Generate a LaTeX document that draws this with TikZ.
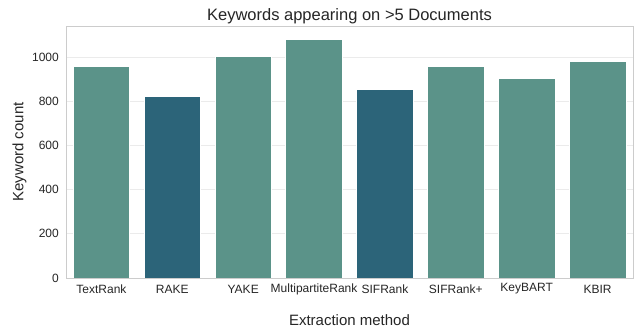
\documentclass[tikz,border=0pt]{standalone}
\usepackage{fontspec}
\setmainfont{Liberation Sans}
\definecolor{barlight}{HTML}{5B9389}
\definecolor{bardark}{HTML}{2C6479}
\definecolor{gridc}{HTML}{EBEBEB}
\definecolor{spinec}{HTML}{CCCCCC}
\definecolor{txt}{HTML}{262626}
\begin{document}
\begin{tikzpicture}[x=1pt,y=-1pt,
  bar/.style={draw=white,line width=0.6pt},
  ticklab/.style={font=\fontsize{12}{14}\selectfont,text=txt,inner sep=0pt},
  axlab/.style={font=\fontsize{15}{17}\selectfont,text=txt,inner sep=0pt},
  gridline/.style={draw=gridc,line width=0.9pt},
  spine/.style={draw=spinec,line width=0.9pt}]
\useasboundingbox[fill=white] (0,0) rectangle (639,329);
% grid
\foreach \v in {200,400,600,800,1000}{
  \pgfmathsetmacro\yy{278-0.2208*\v}
  \draw[gridline] (66,\yy) -- (633,\yy);
  \node[ticklab,anchor=east] (yt\v) at (59,\yy) {\v};
}
\node[ticklab,anchor=east] (yt0) at (59,278) {0};
% bars
\foreach \i/\v/\c/\nm in {0/961/barlight/TextRank,1/824/bardark/RAKE,2/1002/barlight/YAKE,3/1082/barlight/MultipartiteRank,4/855/bardark/SIFRank,5/960/barlight/SIFRank+,6/903/barlight/KeyBART,7/980/barlight/KBIR}{
  \pgfmathsetmacro\cx{66+70.875*(\i+0.5)}
  \pgfmathsetmacro\yy{278-0.2208*\v}
  \fill[\c] (\cx-28.35,278) rectangle (\cx+28.35,\yy);
  \draw[bar] (\cx-28.35,278) rectangle (\cx+28.35,\yy);
  \node[ticklab] (xt\i) at (\cx,289) {\nm};
}
% frame
\draw[spine] (66,26) rectangle (633,278);
% labels
\node[font=\fontsize{16.5}{18}\selectfont,text=txt,inner sep=0pt] (title) at (349.5,16.5) {Keywords appearing on >5 Documents};
\node[axlab] (xlab) at (349.5,320.5) {Extraction method};
\node[axlab,rotate=90] (ylab) at (19.5,152) {Keyword count};
\end{tikzpicture}
\end{document}
